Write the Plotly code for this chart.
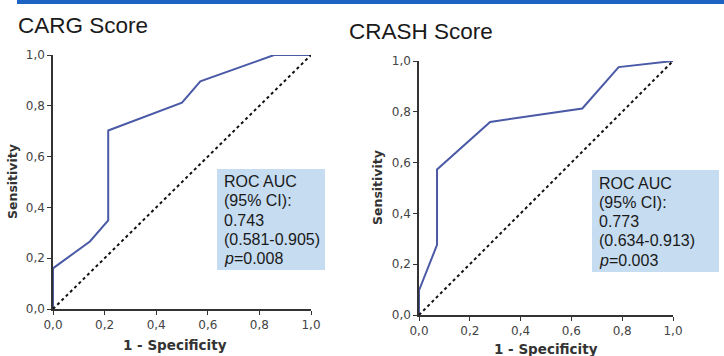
import plotly.graph_objects as go

# ---------------- data ----------------
carg_fpr = [0.0, 0.0, 0.143, 0.214, 0.214, 0.5, 0.571, 0.857, 1.0]
carg_tpr = [0.0, 0.16, 0.266, 0.349, 0.703, 0.812, 0.896, 1.0, 1.0]

crash_fpr = [0.0, 0.0, 0.071, 0.071, 0.28, 0.643, 0.786, 1.0]
crash_tpr = [0.0, 0.097, 0.276, 0.573, 0.76, 0.813, 0.976, 1.0]

ref_line = [0.0, 1.0]

tick_vals = [0.0, 0.2, 0.4, 0.6, 0.8, 1.0]
tick_text = ["0,0", "0,2", "0,4", "0,6", "0,8", "1,0"]

titles = ["CARG Score", "CRASH Score"]
carg_box = ["ROC AUC", "(95% CI):", "0.743", "(0.581-0.905)", "<i>p</i>=0.008"]
crash_box = ["ROC AUC", "(95% CI):", "0.773", "(0.634-0.913)", "<i>p</i>=0.003"]

# ---------------- layout helpers ----------------
W, H = 724, 356
def px(x):
    return x / W
def py(y):
    return 1 - y / H

CURVE = "#4b5aa6"
BOX = "#c6dcf0"

fig = go.Figure()

fig.add_trace(go.Scatter(x=carg_fpr, y=carg_tpr, mode="lines",
                         line=dict(color=CURVE, width=2), xaxis="x", yaxis="y",
                         showlegend=False, hoverinfo="skip"))
fig.add_trace(go.Scatter(x=ref_line, y=ref_line, mode="lines",
                         line=dict(color="#111", width=2, dash="dot"), xaxis="x", yaxis="y",
                         showlegend=False, hoverinfo="skip"))
fig.add_trace(go.Scatter(x=crash_fpr, y=crash_tpr, mode="lines",
                         line=dict(color=CURVE, width=2), xaxis="x2", yaxis="y2",
                         showlegend=False, hoverinfo="skip"))
fig.add_trace(go.Scatter(x=ref_line, y=ref_line, mode="lines",
                         line=dict(color="#111", width=2, dash="dot"), xaxis="x2", yaxis="y2",
                         showlegend=False, hoverinfo="skip"))

axis_style = dict(range=[0, 1], showline=True, linecolor="#333", linewidth=1.5,
                  ticks="outside", ticklen=4, tickcolor="#333", tickwidth=1.2,
                  showgrid=False, zeroline=False, tickvals=tick_vals, ticktext=tick_text,
                  automargin=False,
                  tickfont=dict(family="DejaVu Sans", size=12, color="#444"), fixedrange=True)

fig.update_layout(
    width=W, height=H, autosize=False,
    margin=dict(l=0, r=0, t=0, b=0, pad=0, autoexpand=False),
    paper_bgcolor="white", plot_bgcolor="white",
    xaxis=dict(domain=[px(53), px(311)], anchor="y", **axis_style),
    yaxis=dict(domain=[py(309), py(55)], anchor="x", **axis_style),
    xaxis2=dict(domain=[px(419), px(673)], anchor="y2", **axis_style),
    yaxis2=dict(domain=[py(315), py(61)], anchor="x2", **axis_style),
)

shapes = [
    dict(type="rect", xref="paper", yref="paper", x0=px(17), x1=px(724), y0=py(4), y1=py(0),
         fillcolor="#1d63c4", line=dict(width=0), layer="below"),
    dict(type="rect", xref="paper", yref="paper", x0=px(217), x1=px(325), y0=py(270), y1=py(169),
         fillcolor=BOX, line=dict(width=0), layer="above"),
    dict(type="rect", xref="paper", yref="paper", x0=px(592), x1=px(719), y0=py(272), y1=py(170),
         fillcolor=BOX, line=dict(width=0), layer="above"),
]
fig.update_layout(shapes=shapes)

ann = []
# chart titles
ann.append(dict(text=titles[0], x=px(16), y=py(26), xref="paper", yref="paper",
                xanchor="left", yanchor="middle", showarrow=False,
                font=dict(family="Liberation Sans", size=22.5, color="#1a1a1a")))
ann.append(dict(text=titles[1], x=px(347), y=py(31.5), xref="paper", yref="paper",
                xanchor="left", yanchor="middle", showarrow=False,
                font=dict(family="Liberation Sans", size=22.5, color="#1a1a1a")))
# axis titles
for xc, yc in [(12, 182), (378, 188)]:
    ann.append(dict(text="<b>Sensitivity</b>", x=px(xc), y=py(yc), xref="paper", yref="paper",
                    xanchor="center", yanchor="middle", showarrow=False, textangle=-90,
                    font=dict(family="DejaVu Sans", size=12.5, color="#333")))
for xc, yc in [(175, 345), (546, 349)]:
    ann.append(dict(text="<b>1 - Specificity</b>", x=px(xc), y=py(yc), xref="paper", yref="paper",
                    xanchor="center", yanchor="middle", showarrow=False,
                    font=dict(family="DejaVu Sans", size=13.5, color="#333")))
# box texts
for lines, x0, y0 in [(carg_box, 222, 181.5), (crash_box, 597, 183)]:
    for i, t in enumerate(lines):
        ann.append(dict(text=t, x=px(x0), y=py(y0 + i * 19.3), xref="paper", yref="paper",
                        xanchor="left", yanchor="middle", showarrow=False,
                        font=dict(family="Liberation Sans", size=16, color="#1a1a1a")))
fig.update_layout(annotations=ann)

# remove the browser's default 8px body margin so the figure fills the window
fig.write_html("out.html", config={"displayModeBar": False},
               post_script="document.body.style.margin='0';document.body.style.overflow='hidden';")
